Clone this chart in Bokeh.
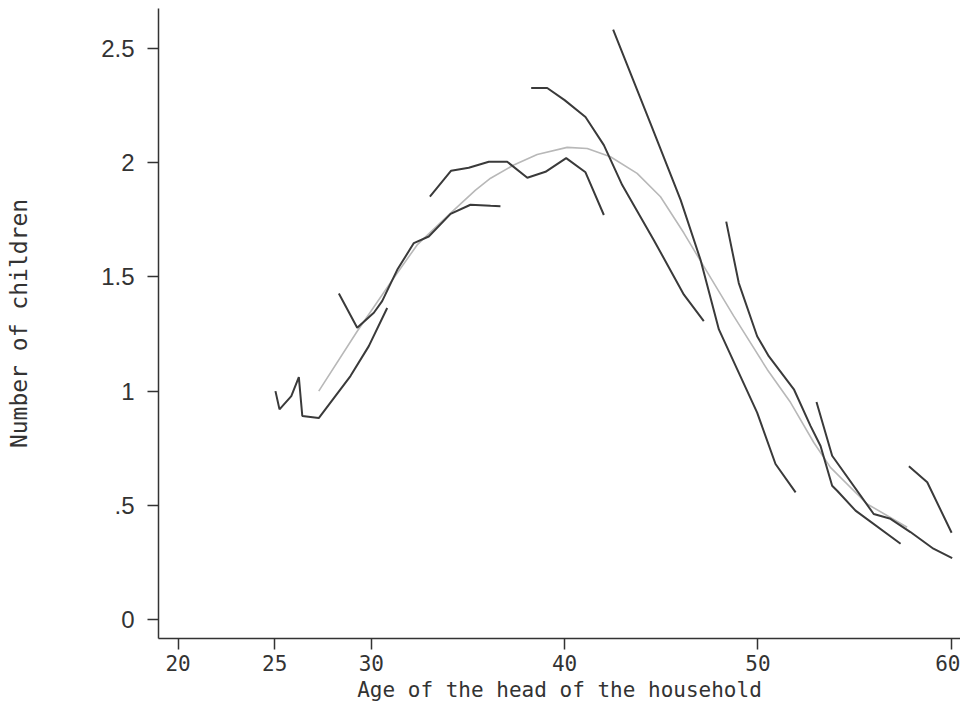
from bokeh.plotting import figure
from bokeh.models import Range1d, FixedTicker
from bokeh.embed import file_html
from bokeh.resources import INLINE

# Cohort lines (age of household head, number of children)
age_a = [25.04, 25.25, 25.86, 26.25, 26.43, 27.28, 28.92, 29.87, 30.82]
kids_a = [1.000, 0.920, 0.978, 1.061, 0.891, 0.882, 1.066, 1.197, 1.364]

age_c = [28.32, 29.27, 30.13, 30.56, 31.34, 32.20, 32.97, 34.10, 35.13, 36.17, 36.68]
kids_c = [1.427, 1.277, 1.343, 1.394, 1.531, 1.648, 1.677, 1.776, 1.816, 1.811, 1.809]

age_b = [33.03, 34.13, 35.04, 36.08, 37.03, 38.07, 39.01, 40.08, 41.08, 42.03]
kids_b = [1.851, 1.965, 1.978, 2.004, 2.004, 1.934, 1.960, 2.020, 1.958, 1.771]

age_d = [38.27, 39.10, 40.00, 41.08, 42.03, 42.98, 44.61, 46.17, 47.20]
kids_d = [2.327, 2.327, 2.274, 2.200, 2.077, 1.902, 1.662, 1.422, 1.306]

age_e = [42.51, 44.44, 46.00, 47.03, 47.98, 48.93, 49.96, 50.91, 51.95]
kids_e = [2.583, 2.172, 1.837, 1.575, 1.270, 1.095, 0.906, 0.681, 0.557]

age_f = [48.36, 49.01, 49.96, 50.56, 51.86, 52.72, 53.24, 53.84, 54.10, 55.05, 57.38]
kids_f = [1.742, 1.473, 1.240, 1.153, 1.008, 0.848, 0.760, 0.586, 0.564, 0.477, 0.332]

age_g = [53.03, 53.84, 55.99, 56.86, 57.89, 59.08, 60.05]
kids_g = [0.952, 0.717, 0.462, 0.441, 0.383, 0.310, 0.269]

age_h = [57.81, 58.76, 60.02]
kids_h = [0.671, 0.601, 0.380]

# Smoothed profile (light grey)
age_fit = [27.28, 29.27, 31.16, 32.37, 34.10, 35.39, 36.17, 37.37, 38.58, 40.13,
           41.17, 42.37, 43.75, 44.96, 46.17, 47.20, 48.75, 50.48, 51.69, 52.89,
           53.75, 55.65, 57.72]
kids_fit = [1.000, 1.262, 1.495, 1.640, 1.779, 1.880, 1.932, 1.990, 2.036, 2.067,
            2.062, 2.026, 1.953, 1.851, 1.692, 1.546, 1.328, 1.095, 0.950, 0.775,
            0.666, 0.506, 0.404]

x_ticks = [20, 25, 30, 40, 50, 60]
y_ticks = [0, 0.5, 1, 1.5, 2, 2.5]
y_tick_labels = ["0", ".5", "1", "1.5", "2", "2.5"]
x_title = "Age of the head of the household"
y_title = "Number of children"

p = figure(width=960, height=704, output_backend="svg", toolbar_location=None,
           x_range=Range1d(18.99, 60.48), y_range=Range1d(-0.083, 2.675),
           min_border_left=158, min_border_right=0, min_border_top=8,
           min_border_bottom=64)
p.outline_line_color = None
p.xgrid.visible = False
p.ygrid.visible = False
p.background_fill_color = "white"
p.border_fill_color = "white"

dark = "#3a3a3a"
p.line(age_fit, kids_fit, line_color="#b8b8b8", line_width=1.6)
for xs, ys in [(age_a, kids_a), (age_c, kids_c), (age_b, kids_b), (age_d, kids_d),
               (age_e, kids_e), (age_f, kids_f), (age_g, kids_g), (age_h, kids_h)]:
    p.line(xs, ys, line_color=dark, line_width=2)

for ax in (p.xaxis[0], p.yaxis[0]):
    ax.axis_line_color = "#333333"
    ax.axis_line_width = 1.5
    ax.major_tick_line_color = "#333333"
    ax.major_tick_line_width = 1.5
    ax.major_tick_in = 0
    ax.major_tick_out = 11
    ax.minor_tick_line_color = None
    ax.major_label_text_color = "#333333"
    ax.axis_label_text_color = "#333333"
    ax.axis_label_text_font_style = "normal"

p.xaxis.ticker = FixedTicker(ticks=x_ticks)
p.xaxis.major_label_text_font = "DejaVu Sans Mono"
p.xaxis.major_label_text_font_size = "21px"
p.xaxis.major_label_standoff = 5
p.xaxis.axis_label = x_title
p.xaxis.axis_label_text_font = "DejaVu Sans Mono"
p.xaxis.axis_label_text_font_size = "21px"
p.xaxis.axis_label_standoff = 4

p.yaxis.ticker = FixedTicker(ticks=y_ticks)
p.yaxis.major_label_overrides = {t: s for t, s in zip(y_ticks, y_tick_labels)}
p.yaxis.major_label_text_font = "Liberation Sans"
p.yaxis.major_label_text_font_size = "24px"
p.yaxis.major_label_standoff = 13
p.yaxis.axis_label = y_title
p.yaxis.axis_label_text_font = "DejaVu Sans Mono"
p.yaxis.axis_label_text_font_size = "23px"
p.yaxis.axis_label_standoff = 66

open("out.html", "w").write(file_html(p, INLINE))
